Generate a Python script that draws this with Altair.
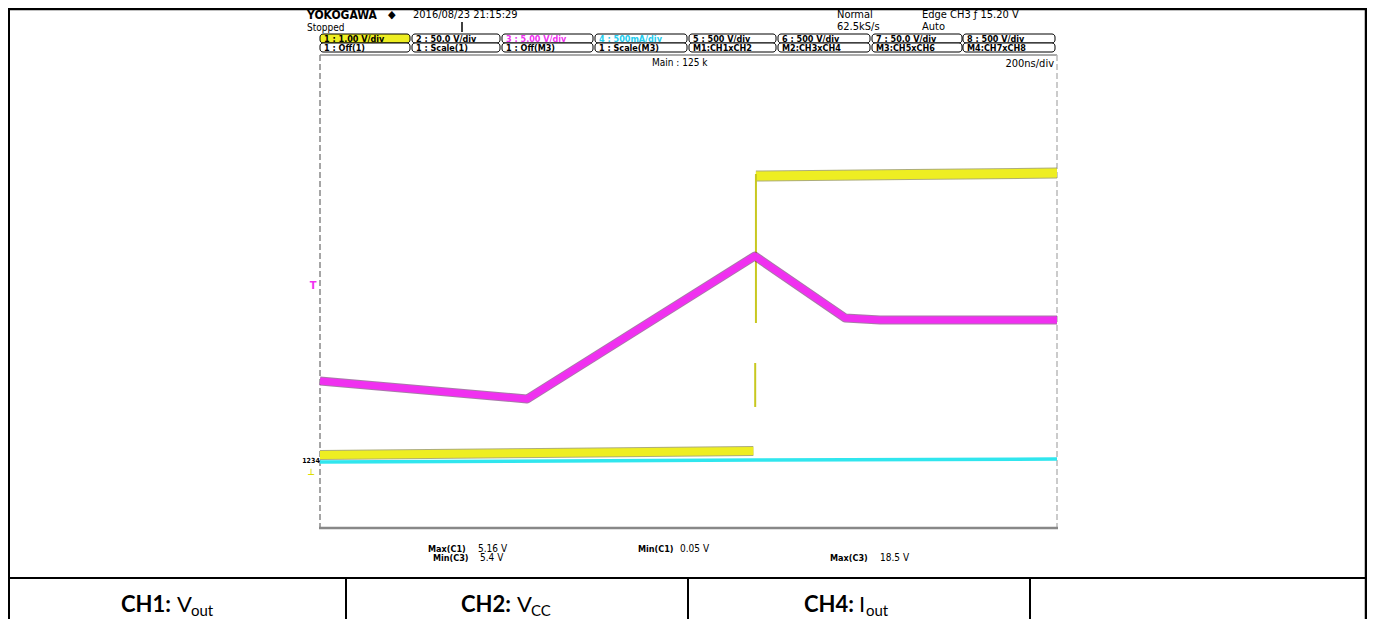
import altair as alt
import pandas as pd

# ---------------- data (time in ns, level in screen divisions from bottom of frame) -------------
t_ch3 = [0, 562, 1180, 1425, 1520, 2000]
v_ch3 = [2.486, 2.182, 4.600, 3.552, 3.518, 3.518]

t_ch1_low = [0, 600, 1176]
v_ch1_low = [1.235, 1.27, 1.302]
t_ch1_high = [1183, 1600, 2000]
v_ch1_high = [5.953, 5.98, 6.004]
t_ch1_step = [1183, 1181]
v_ch1_step_top = [5.987, 2.791]
v_ch1_step_bot = [3.467, 2.047]

t_ch4 = [0, 1183, 2000]
v_ch4 = [1.116, 1.150, 1.167]

row1_labels = ["1 : 1.00 V/div", "2 : 50.0 V/div", "3 : 5.00 V/div", "4 : 500mA/div",
               "5 : 500 V/div", "6 : 500 V/div", "7 : 50.0 V/div", "8 : 500 V/div"]
row2_labels = ["1 : Off(1)", "1 : Scale(1)", "1 : Off(M3)", "1 : Scale(M3)",
               "M1:CH1xCH2", "M2:CH3xCH4", "M3:CH5xCH6", "M4:CH7xCH8"]
meas_labels = [("Max(C1)", "5.16 V"), ("Min(C3)", "5.4 V"), ("Min(C1)", "0.05 V"), ("Max(C3)", "18.5 V")]
table_labels = [("CH1:", "V", "out"), ("CH2:", "V", "CC"), ("CH4:", "I", "out")]

# ---------------- layout ----------------
W, H = 737, 473
OX, OY = 320, 55  # page position of plot frame
SCOPE_FONT = "Liberation Sans Narrow, DejaVu Sans Condensed, Roboto Condensed, Liberation Sans, sans-serif"
DOC_FONT = "Lato, Noto Sans, sans-serif"
YEL, MAG, CYA = "#eeee22", "#f030f0", "#30e6ee"

one = pd.DataFrame({"a": [0]})
xs = alt.Scale(domain=[0, 2000], nice=False, zero=False)
ys = alt.Scale(domain=[0, 8], nice=False, zero=False)


def px(X):
    return X - OX


def py(Y):
    return Y - OY


def label(text, X, Y, size=10, color="black", weight="normal", align="left", font=SCOPE_FONT,
          baseline="middle"):
    return alt.Chart(one).mark_text(text=text, align=align, baseline=baseline, fontSize=size,
                                    color=color, fontWeight=weight, font=font).encode(
        x=alt.value(px(X)), y=alt.value(py(Y)))


def hline(X1, X2, Y, color="black", width=1, dash=None):
    kw = dict(color=color, strokeWidth=width)
    if dash:
        kw["strokeDash"] = dash
    return alt.Chart(one).mark_rule(**kw).encode(x=alt.value(px(X1)), x2=alt.value(px(X2)),
                                                 y=alt.value(py(Y)))


def vline(X, Y1, Y2, color="black", width=1, dash=None):
    kw = dict(color=color, strokeWidth=width)
    if dash:
        kw["strokeDash"] = dash
    return alt.Chart(one).mark_rule(**kw).encode(x=alt.value(px(X)), y=alt.value(py(Y1)),
                                                 y2=alt.value(py(Y2)))


def box(X1, X2, Y1, Y2, fill="white", stroke="black"):
    return alt.Chart(one).mark_rect(fill=fill, stroke=stroke, strokeWidth=1, cornerRadius=3).encode(
        x=alt.value(px(X1)), x2=alt.value(px(X2)), y=alt.value(py(Y1)), y2=alt.value(py(Y2)))


layers = []

# document table borders
layers.append(hline(8, 1367, 9, width=2.5))
layers.append(vline(9, 8, 619, width=2))
layers.append(vline(1366, 8, 619, width=2.5))
layers.append(hline(8, 1367, 578, width=2))
for X in [346, 688, 1030]:
    layers.append(vline(X, 578, 619, width=2))

# table texts
for (lab, sym, sub), (xr, xs_, xsub) in zip(table_labels, [(171, 177, 191), (511, 517, 531), (854, 859, 866)]):
    layers.append(label(lab, xr, 612, size=22, weight="bold", align="right", font=DOC_FONT,
                        baseline="alphabetic"))
    layers.append(label(sym, xs_, 612, size=22, align="left", font=DOC_FONT, baseline="alphabetic"))
    layers.append(label(sub, xsub, 616, size=15, align="left", font=DOC_FONT, baseline="alphabetic"))

# scope header
layers.append(label("YOKOGAWA", 307, 15, size=12, weight="bold"))
layers.append(label("\u25c6", 388, 15, size=11))
layers.append(label("2016/08/23 21:15:29", 413, 15, size=11))
layers.append(label("Stopped", 307, 28, size=10))
layers.append(vline(462, 22, 32, width=1.5))
layers.append(label("Normal", 837, 15, size=11))
layers.append(label("62.5kS/s", 837, 27, size=11))
layers.append(label("Edge CH3 \u0192 15.20 V", 922, 15, size=11))
layers.append(label("Auto", 922, 27, size=11))

bx = [(320, 410), (412, 500), (502, 593), (595, 687), (689, 776), (778, 870), (872, 962), (963, 1055)]
for i, (x1, x2) in enumerate(bx):
    layers.append(box(x1, x2, 34, 43, fill=YEL if i == 0 else "white"))
    layers.append(box(x1, x2, 43, 52))
    tc = MAG if i == 2 else ("#22ccee" if i == 3 else "black")
    layers.append(label(row1_labels[i], x1 + 4, 39, size=9, weight="bold", color=tc))
    layers.append(label(row2_labels[i], x1 + 4, 48, size=9, weight="bold"))

layers.append(label("Main : 125 k", 652, 63, size=10))
layers.append(label("200ns/div", 1054, 64, size=11, align="right"))

# frame
layers.append(hline(320, 1057, 55, color="#555555", width=1))
layers.append(vline(320, 55, 528, color="#888888", width=1.5, dash=[6, 3]))
layers.append(vline(1057, 55, 528, color="#bbbbbb", width=1.5, dash=[6, 3]))
layers.append(hline(319, 1058, 528, color="#888888", width=2.5))

# left markers
layers.append(label("T", 313, 286, size=11, weight="bold", color=MAG, align="center"))
layers.append(label("1234", 311, 461, size=7, weight="bold", align="center"))
layers.append(label("\u22a5", 311, 472, size=9, weight="bold", color="#dddd00", align="center"))


# waveforms
def trace(t, v, color, width, opacity=1.0):
    df = pd.DataFrame({"t": t, "v": v})
    return alt.Chart(df).mark_line(color=color, strokeWidth=width, opacity=opacity,
                                   strokeJoin="round", strokeCap="butt").encode(
        x=alt.X("t:Q", scale=xs, axis=None), y=alt.Y("v:Q", scale=ys, axis=None))


layers.append(trace(t_ch4, v_ch4, CYA, 3.5))
layers.append(trace(t_ch1_low, v_ch1_low, "#777722", 10, 0.6))
layers.append(trace(t_ch1_low, v_ch1_low, YEL, 8))
layers.append(trace(t_ch1_high, v_ch1_high, "#777722", 11, 0.6))
layers.append(trace(t_ch1_high, v_ch1_high, YEL, 9))
step_df = pd.DataFrame({"t": t_ch1_step, "v1": v_ch1_step_top, "v2": v_ch1_step_bot})
layers.append(alt.Chart(step_df).mark_rule(color="#c8c820", strokeWidth=2).encode(
    x=alt.X("t:Q", scale=xs, axis=None), y=alt.Y("v1:Q", scale=ys, axis=None), y2="v2:Q"))
layers.append(trace(t_ch3, v_ch3, "#702070", 9, 0.6))
layers.append(trace(t_ch3, v_ch3, MAG, 7))

# measurements
layers.append(label(meas_labels[0][0], 428, 549, size=9, weight="bold"))
layers.append(label(meas_labels[0][1], 478, 549, size=10))
layers.append(label(meas_labels[1][0], 433, 558, size=9, weight="bold"))
layers.append(label(meas_labels[1][1], 480, 558, size=10))
layers.append(label(meas_labels[2][0], 638, 549, size=9, weight="bold"))
layers.append(label(meas_labels[2][1], 680, 549, size=10))
layers.append(label(meas_labels[3][0], 830, 558, size=9, weight="bold"))
layers.append(label(meas_labels[3][1], 880, 558, size=10))

chart = alt.layer(*layers).properties(
    width=W, height=H,
    autosize=alt.AutoSizeParams(type="none"),
    padding={"left": 312, "top": 47, "right": 310, "bottom": 91},
    background="white",
).configure_view(stroke=None)

chart.save("out.html", embed_options={"renderer": "svg", "actions": False})
